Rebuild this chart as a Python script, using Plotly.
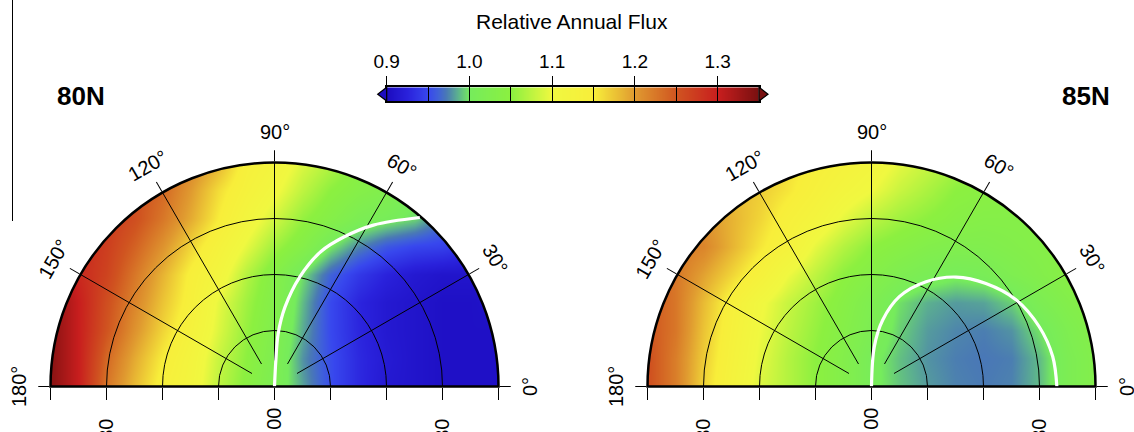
import numpy as np
import plotly.graph_objects as go

W, H = 1134, 432

# ---------------- data ----------------
grid_x = [-40, -35, -30, -25, -20, -15, -10, -5, 0, 5, 10, 15, 20, 25, 30, 35, 40]
grid_y = [0, 5, 10, 15, 20, 25, 30, 35, 40]

flux_80N = [
    [1.34, 1.30, 1.225, 1.18, 1.14, 1.115, 1.075, 1.045, 1.015, 0.982, 0.952, 0.93, 0.915, 0.91, 0.905, 0.905, 0.905],
    [1.34, 1.30, 1.235, 1.19, 1.15, 1.12, 1.08, 1.05, 1.02, 0.978, 0.952, 0.93, 0.917, 0.91, 0.905, 0.905, 0.905],
    [1.34, 1.30, 1.25, 1.205, 1.165, 1.13, 1.09, 1.055, 1.025, 0.984, 0.95, 0.928, 0.915, 0.91, 0.905, 0.905, 0.905],
    [1.34, 1.30, 1.255, 1.215, 1.175, 1.14, 1.095, 1.06, 1.03, 0.988, 0.95, 0.927, 0.915, 0.91, 0.905, 0.905, 0.91],
    [1.34, 1.29, 1.265, 1.225, 1.185, 1.145, 1.115, 1.07, 1.035, 0.997, 0.962, 0.94, 0.925, 0.915, 0.91, 0.91, 0.915],
    [1.31, 1.29, 1.27, 1.24, 1.205, 1.165, 1.13, 1.095, 1.06, 1.035, 1.0, 0.975, 0.957, 0.948, 0.945, 0.935, 0.925],
    [1.30, 1.29, 1.275, 1.255, 1.225, 1.19, 1.15, 1.115, 1.085, 1.055, 1.035, 1.015, 1.005, 0.995, 0.97, 0.95, 0.935],
    [1.29, 1.28, 1.27, 1.255, 1.235, 1.20, 1.16, 1.13, 1.105, 1.075, 1.05, 1.035, 1.025, 1.005, 0.98, 0.96, 0.945],
    [1.28, 1.275, 1.265, 1.25, 1.235, 1.215, 1.185, 1.14, 1.12, 1.09, 1.07, 1.045, 1.03, 1.005, 0.985, 0.965, 0.95],
]

flux_85N = [
    [1.255, 1.22, 1.165, 1.125, 1.09, 1.07, 1.05, 1.03, 1.005, 0.99, 0.98, 0.974, 0.972, 0.974, 0.988, 1.015, 1.03],
    [1.255, 1.22, 1.17, 1.13, 1.095, 1.07, 1.05, 1.03, 1.005, 0.989, 0.978, 0.973, 0.971, 0.973, 0.988, 1.015, 1.03],
    [1.25, 1.225, 1.175, 1.135, 1.10, 1.075, 1.055, 1.035, 1.015, 0.993, 0.98, 0.975, 0.973, 0.978, 0.998, 1.02, 1.035],
    [1.25, 1.225, 1.18, 1.14, 1.105, 1.08, 1.06, 1.04, 1.02, 0.997, 0.985, 0.98, 0.982, 0.993, 1.015, 1.03, 1.04],
    [1.245, 1.225, 1.195, 1.165, 1.135, 1.10, 1.075, 1.05, 1.035, 1.02, 1.01, 1.004, 1.008, 1.02, 1.03, 1.04, 1.045],
    [1.24, 1.225, 1.215, 1.185, 1.155, 1.13, 1.095, 1.07, 1.05, 1.04, 1.03, 1.025, 1.025, 1.03, 1.035, 1.04, 1.045],
    [1.235, 1.22, 1.205, 1.185, 1.165, 1.14, 1.12, 1.095, 1.075, 1.06, 1.05, 1.04, 1.035, 1.035, 1.035, 1.04, 1.045],
    [1.23, 1.21, 1.19, 1.18, 1.17, 1.155, 1.135, 1.115, 1.10, 1.08, 1.065, 1.05, 1.045, 1.04, 1.04, 1.04, 1.045],
    [1.225, 1.205, 1.19, 1.18, 1.175, 1.16, 1.145, 1.13, 1.115, 1.095, 1.08, 1.065, 1.055, 1.05, 1.045, 1.045, 1.045],
]

# white contour lines (theta in degrees, r in grid units)
line_80N_theta = [90, 87, 86, 82.5, 77, 71, 65, 58.5, 49.3]
line_80N_r = [0, 4.7, 9.5, 14.3, 20.1, 25.5, 29.5, 33.8, 39.8]
line_85N_theta = [90, 86, 80.5, 72.8, 62.5, 52.3, 42, 31, 19.6, 9.4, 0]
line_85N_r = [0, 7.1, 12.0, 16.8, 21.1, 24.7, 27.5, 30.1, 31.8, 32.8, 33.1]

angle_ticks = [0, 30, 60, 90, 120, 150, 180]
angle_labels = ["0°", "30°", "60°", "90°", "120°", "150°", "180°"]
angle_label_rot = [-90, 60, 30, 0, -30, -60, -90]
ring_ticks = [10, 20, 30]
radial_ticks = [-40, -30, -20, -10, 0, 10, 20, 30, 40]
radial_labels = ["", "30\u00a0\u00a0", "", "", "00", "", "", "30\u00a0\u00a0", ""]

cbar_levels = [0.9, 0.95, 1.0, 1.05, 1.1, 1.15, 1.2, 1.25, 1.3, 1.35]
cbar_ticks = [0.9, 1.0, 1.1, 1.2, 1.3]
cbar_ticktext = ["0.9", "1.0", "1.1", "1.2", "1.3"]
panel_names = ["80N", "85N"]

# colour scale: (value, colour)
scale_values = [0.90, 0.925, 0.95, 0.962, 0.972, 0.985, 1.00, 1.05, 1.10, 1.15, 1.20, 1.25, 1.30, 1.35]
scale_colors = ["#1c0cc0", "#2a22dc", "#3848ee", "#4062d8", "#4a7ab4", "#5cb090", "#76ec5c",
                "#8cf040", "#f0f840", "#f8ee3a", "#e09a30", "#d05420", "#c81e1e", "#781010"]

VMIN, VMAX = cbar_levels[0], cbar_levels[-1]
colorscale = [[(v - VMIN) / (VMAX - VMIN), c] for v, c in zip(scale_values, scale_colors)]

# ---------------- geometry (pixels) ----------------
FONT = "Liberation Sans, Arial, sans-serif"
centers = [(274.5, 386.5), (871.5, 386.5)]
RPX = 224.0          # outer radius in pixels
RLAB = 255.0         # radius of the angular labels in pixels
RMAX = 40.0          # outer radius in data units
PAD = 4.0            # heatmap axes extend a bit past the circle
S = RPX / RMAX


def px2x(p):
    return p / W


def px2y(p):
    return 1 - p / H


fig = go.Figure()

axis_ids = ["", "2"]
fields = [flux_80N, flux_85N]
lines = [(line_80N_theta, line_80N_r), (line_85N_theta, line_85N_r)]

# white mask: axes rectangle with the upper half-disc cut out
E = RMAX + 2 * PAD
t_arc = np.linspace(np.pi, 0, 361)
mask_x = np.concatenate([[-E, -E, E, E, -E, -E, -RMAX], RMAX * np.cos(t_arc), [-RMAX, -E]])
mask_y = np.concatenate([[0, -E, -E, E, E, 0, 0], RMAX * np.sin(t_arc), [0, 0]])

layout = {}
annotations = []
for i, (cx, cy) in enumerate(centers):
    ax = axis_ids[i]
    pol_x = [px2x(cx - RPX), px2x(cx + RPX)]
    pol_y = [px2y(cy), px2y(cy - RPX)]
    car_x = [px2x(cx - (RMAX + PAD) * S), px2x(cx + (RMAX + PAD) * S)]
    car_y = [px2y(cy + PAD * S), px2y(cy - (RMAX + PAD) * S)]
    fig.add_trace(go.Heatmap(x=grid_x, y=grid_y, z=fields[i], coloraxis="coloraxis",
                             zsmooth="best", xaxis="x" + ax, yaxis="y" + ax, hoverinfo="skip"))
    fig.add_trace(go.Scatter(x=mask_x, y=mask_y, fill="toself", fillcolor="white", mode="lines",
                             line=dict(width=0, color="white", simplify=False),
                             xaxis="x" + ax, yaxis="y" + ax, hoverinfo="skip", showlegend=False))
    layout["xaxis" + ax] = dict(domain=car_x, range=[-(RMAX + PAD), RMAX + PAD], anchor="free",
                                position=px2y(cy), showline=False, ticks="outside", ticklen=12,
                                tickwidth=1, tickcolor="black", tickmode="array", tickvals=radial_ticks,
                                ticktext=radial_labels, tickangle=-90, automargin=False,
                                tickfont=dict(family=FONT, size=20, color="black"),
                                showgrid=False, zeroline=False, fixedrange=True)
    layout["yaxis" + ax] = dict(domain=car_y, range=[-PAD, RMAX + PAD], anchor="x" + ax,
                                visible=False, fixedrange=True, automargin=False)

    p_sp = "polar" + ("" if i == 0 else "3")
    p_rg = "polar" + ("2" if i == 0 else "4")
    # spokes (angular grid, starting a little away from the centre)
    fig.add_trace(go.Scatterpolar(r=[], theta=[], subplot=p_sp, showlegend=False))
    layout[p_sp] = dict(domain=dict(x=pol_x, y=pol_y), sector=[0, 180], hole=0.116,
                        bgcolor="rgba(0,0,0,0)",
                        radialaxis=dict(visible=False, range=[0, RMAX]),
                        angularaxis=dict(tickmode="array", tickvals=angle_ticks[1:-1], showgrid=True,
                                         gridcolor="black", gridwidth=1, showline=False, ticks="",
                                         showticklabels=False))
    # rings, outline, ticks and the white line
    th, rr = lines[i]
    fig.add_trace(go.Scatterpolar(r=rr, theta=th, subplot=p_rg, mode="lines",
                                  line=dict(color="white", width=3.2, shape="spline"),
                                  hoverinfo="skip", showlegend=False))
    layout[p_rg] = dict(domain=dict(x=pol_x, y=pol_y), sector=[0, 180],
                        bgcolor="rgba(0,0,0,0)",
                        radialaxis=dict(range=[0, RMAX], tickmode="array", tickvals=ring_ticks,
                                        showgrid=True, gridcolor="black", gridwidth=1, showline=False,
                                        ticks="", showticklabels=False, layer="below traces"),
                        angularaxis=dict(tickmode="array", tickvals=angle_ticks, showgrid=False,
                                         showline=True, linecolor="black", linewidth=2.5,
                                         ticks="outside", ticklen=11, tickwidth=1, tickcolor="black",
                                         showticklabels=False, layer="below traces"))

    for ang, lab, rot in zip(angle_ticks, angle_labels, angle_label_rot):
        a = np.deg2rad(ang)
        annotations.append(dict(x=px2x(cx + RLAB * np.cos(a)), y=px2y(cy - RLAB * np.sin(a)),
                                xref="paper", yref="paper", text=lab, showarrow=False,
                                textangle=rot, xanchor="center", yanchor="middle",
                                font=dict(family=FONT, size=20, color="black")))

# panel names
for name, (nx, ny) in zip(panel_names, [(81, 96), (1086, 96)]):
    annotations.append(dict(x=px2x(nx), y=px2y(ny), xref="paper", yref="paper", text=f"<b>{name}</b>",
                            showarrow=False, xanchor="center", yanchor="middle",
                            font=dict(family=FONT, size=26, color="black")))
# colour bar title
annotations.append(dict(x=px2x(572), y=px2y(21), xref="paper", yref="paper",
                        text="Relative Annual Flux", showarrow=False, xanchor="center",
                        yanchor="middle", font=dict(family=FONT, size=21, color="black")))

# ---------------- colour bar drawn as a heatmap strip ----------------
cb_l, cb_r, cb_t, cb_b = 386.7, 759.0, 87.3, 101.0
fig.add_trace(go.Heatmap(x=cbar_levels, y=[0, 1], z=[cbar_levels, cbar_levels], coloraxis="coloraxis",
                         zsmooth="best", xaxis="x3", yaxis="y3", hoverinfo="skip"))
layout["xaxis3"] = dict(domain=[px2x(cb_l), px2x(cb_r)], range=[VMIN, VMAX],
                        anchor="y3", side="top", tickmode="array", tickvals=cbar_ticks,
                        ticktext=cbar_ticktext, ticks="outside", ticklen=10, tickwidth=1.2,
                        tickcolor="black", automargin=False,
                        tickfont=dict(family=FONT, size=19, color="black"),
                        minor=dict(tickmode="array", tickvals=cbar_levels, ticks="inside", ticklen=14,
                                   tickwidth=1.2, tickcolor="black", showgrid=False),
                        showline=True, mirror=True, linecolor="black", linewidth=1.5,
                        showgrid=False, zeroline=False, fixedrange=True)
layout["yaxis3"] = dict(domain=[px2y(cb_b), px2y(cb_t)], range=[0, 1], anchor="x3", showline=True,
                        mirror=True, linecolor="black", linewidth=1.5, ticks="", showticklabels=False,
                        showgrid=False, zeroline=False, fixedrange=True, automargin=False)

cb_mid = (cb_t + cb_b) / 2
shapes = [
    dict(type="path", xref="paper", yref="paper",
         path=f"M {px2x(cb_l)},{px2y(cb_t)} L {px2x(cb_l - 9)},{px2y(cb_mid)} L {px2x(cb_l)},{px2y(cb_b)} Z",
         fillcolor=scale_colors[0], line=dict(color="black", width=1.2)),
    dict(type="path", xref="paper", yref="paper",
         path=f"M {px2x(cb_r)},{px2y(cb_t)} L {px2x(cb_r + 9)},{px2y(cb_mid)} L {px2x(cb_r)},{px2y(cb_b)} Z",
         fillcolor=scale_colors[-1], line=dict(color="black", width=1.2)),
    dict(type="line", xref="paper", yref="paper", x0=px2x(12.5), x1=px2x(12.5), y0=1, y1=px2y(221),
         line=dict(color="black", width=1)),
]

fig.update_layout(
    width=W, height=H, autosize=False, margin=dict(l=0, r=0, t=0, b=0, pad=0, autoexpand=False),
    paper_bgcolor="white", plot_bgcolor="white", showlegend=False,
    coloraxis=dict(colorscale=colorscale, cmin=VMIN, cmax=VMAX, showscale=False),
    annotations=annotations, shapes=shapes,
    **layout,
)

fig.write_html("out.html", config={"displayModeBar": False},
               post_script="document.body.style.margin='0px';")
